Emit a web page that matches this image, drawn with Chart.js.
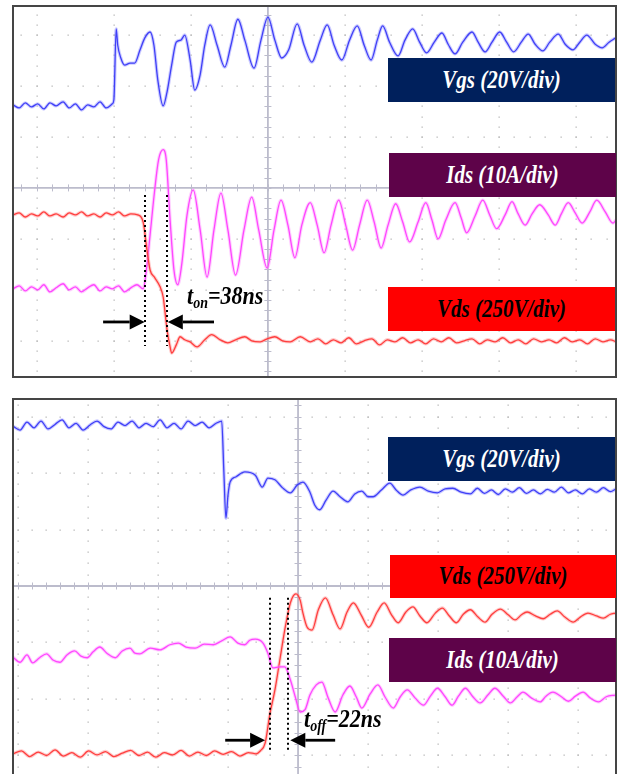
<!DOCTYPE html>
<html>
<head>
<meta charset="utf-8">
<script src="https://cdn.jsdelivr.net/npm/chart.js@4/dist/chart.umd.min.js"></script>
<style>
  html,body{margin:0;padding:0;background:#fff;}
  body{width:620px;height:774px;overflow:hidden;position:relative;font-family:"Liberation Serif","DejaVu Serif",serif;}
  .cv{position:absolute;left:0;}
  .lab{position:absolute;display:flex;align-items:center;justify-content:center;
       font-weight:bold;font-style:italic;font-size:21px;color:#fff;white-space:nowrap;}
  .lab span{display:inline-block;transform:scaleY(1.2);}
  .ann{position:absolute;font-weight:bold;font-style:italic;font-size:22px;line-height:22px;color:#000;white-space:nowrap;
       transform:scaleY(1.12);transform-origin:left bottom;}
  .ann sub{font-size:14px;vertical-align:-4px;}
</style>
</head>
<body>
<div class="cv" style="top:0;width:620px;height:385px;"><canvas id="top"></canvas></div>
<div class="cv" style="top:390px;width:620px;height:390px;"><canvas id="bot"></canvas></div>

<div class="lab" style="left:388px;top:58px;width:227px;height:44px;background:#00205c;"><span>Vgs (20V/div)</span></div>
<div class="lab" style="left:389px;top:153px;width:227px;height:44px;background:#5e0349;"><span>Ids (10A/div)</span></div>
<div class="lab" style="left:388px;top:287px;width:227px;height:44px;background:#ff0000;color:#000;"><span>Vds (250V/div)</span></div>
<div class="ann" style="left:187px;top:287px;">t<sub>on</sub>=38ns</div>

<div class="lab" style="left:388px;top:437px;width:227px;height:44px;background:#00205c;"><span>Vgs (20V/div)</span></div>
<div class="lab" style="left:390px;top:555px;width:226px;height:43px;background:#ff0000;color:#000;"><span>Vds (250V/div)</span></div>
<div class="lab" style="left:389px;top:638px;width:227px;height:44px;background:#5e0349;"><span>Ids (10A/div)</span></div>
<div class="ann" style="left:304px;top:710px;">t<sub>off</sub>=22ns</div>

<script>
// ===== DATA (time and amplitude in oscilloscope divisions) =====
// --- Turn-on panel ---
const onVgsT = [-3.31,-3.23,-3.15,-3.07,-2.99,-2.91,-2.83,-2.75,-2.66,-2.58,-2.50,-2.42,-2.34,-2.26,-2.18,-2.10,-2.02,-2.00,-1.97,-1.95,-1.91,-1.86,-1.79,-1.73,-1.66,-1.60,-1.53,-1.48,-1.43,-1.36,-1.31,-1.25,-1.19,-1.13,-1.08,-1.01,-0.95,-0.88,-0.82,-0.75,-0.66,-0.56,-0.48,-0.39,-0.30,-0.18,-0.09,0.00,0.09,0.18,0.27,0.38,0.47,0.57,0.68,0.77,0.86,0.96,1.06,1.16,1.25,1.34,1.42,1.49,1.58,1.69,1.78,1.88,1.97,2.06,2.16,2.26,2.34,2.43,2.53,2.65,2.73,2.82,2.91,3.01,3.10,3.19,3.29,3.38,3.47,3.57,3.66,3.77,3.86,3.96,4.05,4.14,4.25,4.34,4.43,4.51];
const onVgsV = [1.63,1.57,1.67,1.59,1.65,1.55,1.67,1.61,1.69,1.57,1.65,1.53,1.63,1.59,1.69,1.57,1.65,1.73,3.12,2.80,2.55,2.41,2.45,2.45,2.71,2.94,3.06,2.80,2.12,1.61,1.88,2.41,2.86,2.90,3.00,2.51,1.92,2.22,2.80,3.20,2.80,2.37,2.80,3.31,2.90,2.35,2.90,3.35,2.90,2.55,2.71,3.22,2.80,2.47,2.90,3.20,2.80,2.51,2.90,3.18,2.80,2.51,2.90,3.18,2.86,2.59,2.90,3.12,2.86,2.65,2.86,3.04,2.82,2.63,2.86,3.06,2.86,2.67,2.86,3.06,2.86,2.67,2.86,3.02,2.82,2.69,2.86,3.02,2.82,2.71,2.86,3.00,2.82,2.75,2.86,2.94];

const onIdsT = [-3.31,-3.23,-3.15,-3.07,-2.99,-2.91,-2.83,-2.75,-2.66,-2.58,-2.50,-2.42,-2.34,-2.26,-2.18,-2.10,-2.02,-1.94,-1.86,-1.78,-1.70,-1.62,-1.57,-1.53,-1.47,-1.42,-1.36,-1.32,-1.27,-1.22,-1.17,-1.12,-1.05,-0.97,-0.88,-0.79,-0.70,-0.61,-0.52,-0.42,-0.31,-0.21,-0.12,-0.01,0.08,0.17,0.26,0.35,0.44,0.55,0.64,0.73,0.82,0.92,1.01,1.10,1.19,1.29,1.38,1.47,1.56,1.66,1.75,1.84,1.95,2.05,2.13,2.21,2.31,2.43,2.51,2.58,2.69,2.79,2.88,2.97,3.08,3.17,3.25,3.34,3.43,3.53,3.64,3.73,3.81,3.90,3.99,4.08,4.18,4.27,4.38,4.48,4.52];
const onIdsV = [-1.98,-1.92,-2.02,-1.94,-2.00,-1.90,-2.04,-1.96,-1.88,-2.00,-1.94,-2.04,-1.96,-1.90,-2.02,-1.94,-1.98,-1.92,-2.04,-1.96,-1.90,-1.98,-1.51,-0.92,-0.04,0.55,0.75,0.55,-0.63,-1.61,-1.90,-1.51,-0.53,-0.04,-0.82,-1.75,-0.82,-0.10,-0.82,-1.71,-0.82,-0.18,-0.82,-1.57,-0.82,-0.24,-0.73,-1.37,-0.73,-0.29,-0.73,-1.27,-0.73,-0.24,-0.73,-1.22,-0.73,-0.24,-0.67,-1.18,-0.73,-0.31,-0.67,-1.06,-0.67,-0.29,-0.63,-1.00,-0.63,-0.29,-0.59,-0.88,-0.55,-0.24,-0.53,-0.80,-0.53,-0.27,-0.51,-0.73,-0.51,-0.33,-0.53,-0.73,-0.51,-0.29,-0.49,-0.69,-0.47,-0.24,-0.47,-0.69,-0.63];

const onVdsT = [-3.31,-3.23,-3.15,-3.07,-2.99,-2.91,-2.83,-2.75,-2.66,-2.58,-2.50,-2.42,-2.34,-2.26,-2.18,-2.10,-2.02,-1.94,-1.86,-1.78,-1.69,-1.62,-1.57,-1.53,-1.47,-1.40,-1.36,-1.31,-1.27,-1.25,-1.19,-1.14,-1.08,-1.01,-0.92,-0.82,-0.73,-0.62,-0.52,-0.42,-0.30,-0.21,-0.10,-0.01,0.09,0.19,0.29,0.42,0.55,0.65,0.75,0.85,0.95,1.05,1.15,1.25,1.35,1.45,1.55,1.65,1.75,1.85,1.95,2.05,2.15,2.25,2.35,2.45,2.55,2.65,2.75,2.85,2.95,3.05,3.15,3.25,3.35,3.45,3.55,3.65,3.75,3.85,3.95,4.05,4.15,4.25,4.35,4.45,4.52];
const onVdsV = [-0.53,-0.49,-0.57,-0.51,-0.55,-0.47,-0.55,-0.51,-0.57,-0.49,-0.53,-0.47,-0.55,-0.51,-0.57,-0.49,-0.53,-0.47,-0.55,-0.51,-0.53,-0.67,-1.22,-1.61,-1.76,-1.94,-2.14,-2.78,-3.12,-3.24,-3.08,-2.92,-2.98,-3.02,-3.12,-2.98,-2.88,-2.98,-3.04,-2.98,-2.92,-3.00,-3.02,-2.96,-2.92,-3.00,-3.02,-2.92,-3.02,-2.96,-3.06,-2.98,-3.04,-2.94,-3.06,-3.00,-2.96,-3.08,-2.98,-3.02,-2.94,-3.04,-2.98,-3.06,-2.96,-3.02,-2.94,-3.04,-3.00,-2.96,-3.06,-2.98,-3.02,-2.94,-3.04,-2.98,-3.06,-2.96,-3.02,-2.98,-3.04,-2.94,-3.02,-2.98,-3.06,-2.96,-3.02,-2.98,-3.02];

// --- Turn-off panel ---
const offVgsT = [-4.07,-3.97,-3.87,-3.77,-3.67,-3.57,-3.47,-3.37,-3.27,-3.17,-3.07,-2.97,-2.87,-2.77,-2.67,-2.57,-2.47,-2.37,-2.27,-2.17,-2.07,-1.97,-1.87,-1.77,-1.67,-1.57,-1.47,-1.37,-1.27,-1.17,-1.09,-1.06,-1.03,-1.00,-0.97,-0.89,-0.76,-0.61,-0.51,-0.43,-0.33,-0.23,-0.11,-0.01,0.07,0.17,0.24,0.31,0.40,0.50,0.60,0.71,0.81,0.91,1.00,1.07,1.19,1.31,1.40,1.50,1.61,1.74,1.86,1.99,2.10,2.21,2.33,2.46,2.56,2.66,2.76,2.86,2.96,3.06,3.16,3.26,3.36,3.46,3.56,3.66,3.76,3.86,3.96,4.06,4.16,4.26,4.36,4.46,4.54];
const offVgsV = [2.83,2.76,2.90,2.80,2.92,2.78,2.86,2.94,2.80,2.88,2.76,2.85,2.92,2.82,2.78,2.90,2.84,2.92,2.80,2.88,2.82,2.94,2.80,2.88,2.78,2.92,2.84,2.90,2.80,2.88,2.92,2.05,1.20,1.61,1.84,1.93,2.02,1.96,1.75,1.91,1.88,1.75,1.65,1.79,1.84,1.66,1.43,1.35,1.52,1.68,1.58,1.49,1.63,1.68,1.58,1.58,1.70,1.82,1.70,1.61,1.70,1.75,1.68,1.65,1.72,1.73,1.66,1.63,1.73,1.64,1.70,1.62,1.72,1.66,1.74,1.64,1.70,1.63,1.71,1.66,1.75,1.65,1.70,1.63,1.72,1.66,1.74,1.67,1.72];

const offVdsT = [-4.07,-3.95,-3.83,-3.71,-3.59,-3.47,-3.35,-3.23,-3.11,-2.99,-2.87,-2.75,-2.63,-2.51,-2.39,-2.27,-2.15,-2.03,-1.91,-1.79,-1.67,-1.55,-1.43,-1.31,-1.19,-1.07,-0.95,-0.83,-0.71,-0.60,-0.54,-0.47,-0.40,-0.33,-0.26,-0.19,-0.11,-0.03,0.03,0.07,0.13,0.20,0.29,0.39,0.50,0.60,0.70,0.79,0.90,1.01,1.13,1.23,1.33,1.43,1.54,1.64,1.74,1.84,1.96,2.06,2.16,2.26,2.36,2.46,2.57,2.67,2.77,2.89,3.00,3.10,3.19,3.27,3.39,3.50,3.60,3.70,3.81,3.93,4.03,4.14,4.26,4.36,4.46,4.53];
const offVdsV = [-2.97,-2.92,-3.02,-2.94,-3.00,-2.90,-3.01,-2.95,-3.03,-2.92,-2.99,-2.93,-3.02,-2.96,-2.91,-3.00,-2.94,-3.03,-2.95,-2.99,-2.91,-3.01,-2.94,-3.00,-2.92,-2.98,-2.93,-3.01,-2.95,-2.97,-2.92,-2.78,-2.25,-1.84,-1.31,-0.78,-0.30,-0.14,-0.25,-0.48,-0.73,-0.78,-0.42,-0.21,-0.51,-0.76,-0.46,-0.30,-0.51,-0.73,-0.46,-0.30,-0.50,-0.65,-0.46,-0.37,-0.53,-0.65,-0.48,-0.39,-0.53,-0.65,-0.50,-0.42,-0.55,-0.64,-0.50,-0.41,-0.51,-0.60,-0.51,-0.46,-0.53,-0.58,-0.50,-0.44,-0.55,-0.64,-0.55,-0.48,-0.53,-0.57,-0.50,-0.48];

const offIdsT = [-4.07,-3.97,-3.87,-3.79,-3.69,-3.59,-3.50,-3.40,-3.30,-3.19,-3.10,-3.01,-2.93,-2.83,-2.73,-2.61,-2.51,-2.40,-2.33,-2.26,-2.11,-1.97,-1.83,-1.71,-1.60,-1.47,-1.34,-1.21,-1.09,-0.97,-0.86,-0.76,-0.69,-0.61,-0.50,-0.43,-0.36,-0.26,-0.19,-0.11,-0.04,0.03,0.10,0.17,0.26,0.34,0.43,0.53,0.64,0.74,0.83,0.91,1.03,1.14,1.24,1.36,1.46,1.56,1.67,1.79,1.89,1.99,2.10,2.20,2.29,2.39,2.49,2.60,2.71,2.81,2.93,3.03,3.13,3.21,3.33,3.46,3.54,3.64,3.76,3.86,3.96,4.07,4.17,4.29,4.40,4.53];
const offIdsV = [-1.26,-1.35,-1.22,-1.36,-1.27,-1.20,-1.31,-1.35,-1.22,-1.15,-1.24,-1.27,-1.17,-1.08,-1.19,-1.27,-1.15,-1.10,-1.19,-1.20,-1.10,-1.13,-1.04,-1.01,-1.08,-1.10,-1.03,-1.04,-0.97,-0.90,-1.01,-1.04,-0.96,-0.94,-1.01,-1.19,-1.45,-1.43,-1.43,-1.66,-1.96,-2.23,-2.19,-1.93,-1.75,-1.70,-1.98,-2.23,-1.93,-1.77,-1.96,-2.16,-1.91,-1.75,-1.96,-2.16,-1.96,-1.84,-1.98,-2.11,-1.95,-1.81,-1.96,-2.11,-1.95,-1.81,-1.95,-2.07,-1.93,-1.81,-1.95,-2.07,-1.96,-1.88,-1.98,-2.05,-1.95,-1.88,-1.96,-2.04,-1.95,-1.88,-1.98,-2.05,-1.96,-1.93];

// Switching-time markers (divisions)
const onMarkT  = [-1.60, -1.31];
const onMarkY  = [-0.14, -3.10];
const onArrow  = { y: -2.63, left: [-2.14, -1.60], right: [-0.70, -1.30] };
const offMarkT = [-0.40, -0.14];
const offMarkY = [-0.21, -2.90];
const offArrow = { y: -2.73, left: [-1.04, -0.47], right: [0.53, -0.11] };

// ===== Rendering =====
const COLORS = { vgs: '#1c1cf2', vgsHalo: 'rgba(120,120,255,0.38)',
                 ids: '#ff22ff', idsHalo: 'rgba(255,130,255,0.38)',
                 vds: '#ff1a1a', vdsHalo: 'rgba(255,120,120,0.38)' };

function pts(t, v){ return t.map((x,i)=>({x:x, y:v[i]})); }
function traces(list){
  const out = [];
  list.forEach(([t,v,key])=>{
    out.push({data:pts(t,v), borderColor:COLORS[key+'Halo'], borderWidth:3.4, pointRadius:0, cubicInterpolationMode:'monotone'});
    out.push({data:pts(t,v), borderColor:COLORS[key], borderWidth:1.3, pointRadius:0, cubicInterpolationMode:'monotone'});
  });
  return out;
}

const scopeGrid = {
  id:'scopeGrid',
  beforeDatasetsDraw(chart){
    const {ctx, chartArea:a, scales:{x,y}} = chart;
    ctx.save();
    ctx.beginPath(); ctx.rect(a.left,a.top,a.right-a.left,a.bottom-a.top); ctx.clip();
    ctx.fillStyle = '#b9b9b9';
    for(let j=Math.ceil(y.min); j<=Math.floor(y.max); j++){
      if(j===0) continue;
      const py = Math.round(y.getPixelForValue(j));
      for(let k=Math.ceil(x.min*5); k<=Math.floor(x.max*5); k++){
        const px = x.getPixelForValue(k/5);
        ctx.fillRect(Math.round(px)-0.5, py-0.5, 1.3, 1.3);
      }
    }
    for(let i=Math.ceil(x.min); i<=Math.floor(x.max); i++){
      if(i===0) continue;
      const px = Math.round(x.getPixelForValue(i));
      for(let k=Math.ceil(y.min*5); k<=Math.floor(y.max*5); k++){
        const py = y.getPixelForValue(k/5);
        ctx.fillRect(px-0.5, Math.round(py)-0.5, 1.3, 1.3);
      }
    }
    const cx = x.getPixelForValue(0), cy = y.getPixelForValue(0);
    ctx.strokeStyle = '#bcbccc'; ctx.lineWidth = 1.8;
    ctx.beginPath(); ctx.moveTo(a.left,cy); ctx.lineTo(a.right,cy);
    ctx.moveTo(cx,a.top); ctx.lineTo(cx,a.bottom); ctx.stroke();
    ctx.lineWidth = 1;
    ctx.beginPath();
    for(let k=Math.ceil(x.min*5); k<=Math.floor(x.max*5); k++){
      const px = Math.round(x.getPixelForValue(k/5))+0.5;
      ctx.moveTo(px, cy-3.5); ctx.lineTo(px, cy+3.5);
    }
    for(let k=Math.ceil(y.min*5); k<=Math.floor(y.max*5); k++){
      const py = Math.round(y.getPixelForValue(k/5))+0.5;
      ctx.moveTo(cx-3.5, py); ctx.lineTo(cx+3.5, py);
    }
    ctx.stroke();
    ctx.restore();
  },
  afterDraw(chart){
    const {ctx, chartArea:a} = chart;
    ctx.save();
    ctx.strokeStyle = '#454545'; ctx.lineWidth = 2;
    ctx.strokeRect(a.left, a.top, a.right-a.left, a.bottom-a.top);
    ctx.restore();
  }
};

const markers = {
  id:'markers',
  afterDatasetsDraw(chart, args, o){
    const {ctx, scales:{x,y}} = chart;
    ctx.save();
    ctx.strokeStyle = '#000'; ctx.fillStyle = '#000';
    ctx.lineWidth = 2; ctx.setLineDash([2,3]);
    o.t.forEach(t=>{
      const px = Math.round(x.getPixelForValue(t));
      ctx.beginPath(); ctx.moveTo(px, y.getPixelForValue(o.ys[0])); ctx.lineTo(px, y.getPixelForValue(o.ys[1])); ctx.stroke();
    });
    ctx.setLineDash([]);
    const py = y.getPixelForValue(o.arrow.y);
    [o.arrow.left, o.arrow.right].forEach(([from,to])=>{
      const x0 = x.getPixelForValue(from), x1 = x.getPixelForValue(to);
      const dir = Math.sign(x1-x0), head = 15;
      ctx.lineWidth = 2.8;
      ctx.beginPath(); ctx.moveTo(x0, py); ctx.lineTo(x1 - dir*head, py); ctx.stroke();
      ctx.beginPath(); ctx.moveTo(x1, py); ctx.lineTo(x1 - dir*head, py-7.5); ctx.lineTo(x1 - dir*head, py+7.5); ctx.closePath(); ctx.fill();
    });
    ctx.restore();
  }
};

function makeChart(id, ds, xr, yr, pad, mk){
  return new Chart(document.getElementById(id), {
    type:'line',
    data:{ datasets: ds },
    options:{
      responsive:true, maintainAspectRatio:false, animation:false,
      layout:{ padding: pad },
      parsing:false,
      scales:{
        x:{ type:'linear', min:xr[0], max:xr[1], display:false },
        y:{ type:'linear', min:yr[0], max:yr[1], display:false }
      },
      plugins:{ legend:{display:false}, tooltip:{enabled:false}, markers: mk }
    },
    plugins:[scopeGrid, markers]
  });
}

makeChart('top',
  traces([[onVgsT,onVgsV,'vgs'],[onVdsT,onVdsV,'vds'],[onIdsT,onIdsV,'ids']]),
  [-3.31, 4.52], [-3.71, 3.57], {left:13, top:6, right:4, bottom:8},
  { t:onMarkT, ys:onMarkY, arrow:onArrow });

makeChart('bot',
  traces([[offVgsT,offVgsV,'vgs'],[offIdsT,offIdsV,'ids'],[offVdsT,offVdsV,'vds']]),
  [-4.07, 4.54], [-3.363, 3.31], {left:13, top:9, right:4, bottom:4},
  { t:offMarkT, ys:offMarkY, arrow:offArrow });
</script>
</body>
</html>
